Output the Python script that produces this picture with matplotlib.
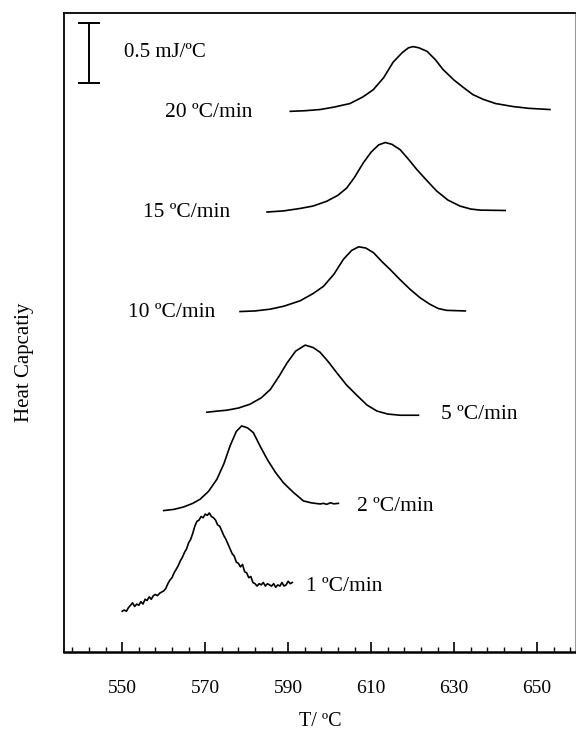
import matplotlib
matplotlib.use("Agg")
import matplotlib.pyplot as plt

plt.rcParams['font.family'] = ['Liberation Serif', 'DejaVu Serif']

# ---- data (T in °C, heat capacity in mJ/°C, arbitrary offsets) ----
T_20 = [590.5, 594, 597.7, 601, 604.9, 608, 610.5, 613, 615.3, 617.5, 619, 620.1,
        621.5, 623.5, 625.5, 627.3, 630, 632.2, 634.5, 637.0, 640, 644.2, 648, 653.1]
C_20 = [4.51, 4.515, 4.525, 4.545, 4.575, 4.63, 4.69, 4.79, 4.92, 5.00, 5.04, 5.05,
        5.04, 5.01, 4.94, 4.86, 4.77, 4.71, 4.65, 4.61, 4.575, 4.55, 4.535, 4.525]

T_15 = [584.9, 589, 592.9, 596, 599.3, 602, 604.1, 606, 608.1, 610, 611.8, 613.4,
        615, 617.0, 619, 621.0, 623.5, 625.8, 628.5, 631.4, 634, 636.3, 642.3]
C_15 = [3.67, 3.68, 3.70, 3.72, 3.76, 3.81, 3.87, 3.96, 4.08, 4.17, 4.23, 4.25,
        4.235, 4.19, 4.11, 4.025, 3.93, 3.845, 3.77, 3.72, 3.695, 3.686, 3.683]

T_10 = [578.4, 582, 585.7, 589, 592.9, 596, 598.5, 601, 603.3, 605.3, 607.0, 608.7,
        610.6, 612.5, 614.6, 617, 619.4, 621.8, 624.2, 626.2, 628.2, 632.7]
C_10 = [2.84, 2.845, 2.86, 2.885, 2.93, 2.99, 3.05, 3.15, 3.275, 3.35, 3.38, 3.37,
        3.33, 3.26, 3.19, 3.105, 3.025, 2.955, 2.90, 2.865, 2.85, 2.845]

T_5 = [570.4, 573, 575.2, 578, 580.8, 583.5, 585.7, 587.8, 589.7, 591.8, 594.1,
       596, 597.7, 599.7, 601.7, 604, 606.6, 609, 611.4, 614, 617.0, 621.4]
C_5 = [2.00, 2.01, 2.017, 2.035, 2.067, 2.12, 2.19, 2.30, 2.41, 2.51, 2.56,
       2.54, 2.50, 2.42, 2.33, 2.23, 2.14, 2.06, 2.01, 1.985, 1.975, 1.975]

T_2 = [560.0, 562.5, 564.8, 567, 568.8, 570.8, 572.8, 574.5, 576.0, 577.5, 578.8,
       580.2, 581.6, 583.2, 584.9, 586.9, 588.9, 591.3, 593.7, 595.5, 596.5, 597.7,
       598.5, 599.3, 600.2, 601.0, 602.1]
C_2 = [1.18, 1.19, 1.21, 1.24, 1.275, 1.34, 1.44, 1.57, 1.72, 1.84, 1.886,
       1.87, 1.83, 1.72, 1.61, 1.50, 1.41, 1.33, 1.26, 1.245, 1.24, 1.235,
       1.24, 1.232, 1.245, 1.236, 1.24]

T_1 = [550.0, 550.5, 551.0, 551.5, 552.0, 552.5, 553.0, 553.5, 554.0, 554.5,
       555.0, 555.5, 556.0, 556.5, 557.0, 557.5, 558.0, 558.5, 559.0, 559.5,
       560.0, 560.5, 561.0, 561.5, 562.0, 562.5, 563.0, 563.5, 564.0, 564.5,
       565.0, 565.5, 566.0, 566.5, 567.0, 567.5, 568.0, 568.5, 569.0, 569.5,
       570.0, 570.5, 571.0, 571.5, 572.0, 572.5, 573.0, 573.5, 574.0, 574.5,
       575.0, 575.5, 576.0, 576.5, 577.0, 577.5, 578.0, 578.5, 579.0, 579.5,
       580.0, 580.5, 581.0, 581.5, 582.0, 582.5, 583.0, 583.5, 584.0, 584.5,
       585.0, 585.5, 586.0, 586.5, 587.0, 587.5, 588.0, 588.5, 589.0, 589.5,
       590.0, 590.5, 591.0]
C_1 = [0.34, 0.35, 0.34, 0.37, 0.39, 0.41, 0.38, 0.40, 0.39, 0.42,
       0.40, 0.44, 0.43, 0.46, 0.44, 0.47, 0.48, 0.47, 0.49, 0.50,
       0.51, 0.53, 0.57, 0.60, 0.62, 0.66, 0.69, 0.72, 0.76, 0.79,
       0.83, 0.86, 0.91, 0.94, 0.99, 1.05, 1.09, 1.10, 1.13, 1.12,
       1.15, 1.14, 1.16, 1.13, 1.12, 1.10, 1.06, 1.05, 1.01, 0.97,
       0.94, 0.90, 0.86, 0.82, 0.80, 0.75, 0.74, 0.71, 0.73, 0.67,
       0.66, 0.62, 0.63, 0.58, 0.57, 0.55, 0.57, 0.56, 0.58, 0.55,
       0.57, 0.56, 0.55, 0.57, 0.54, 0.56, 0.55, 0.58, 0.55, 0.56,
       0.59, 0.57, 0.58]

rate_labels = ["20 \u00baC/min", "15 \u00baC/min", "10 \u00baC/min",
               "5 \u00baC/min", "2 \u00baC/min", "1 \u00baC/min"]
label_T = [560.3, 555.0, 551.4, 626.8, 606.6, 594.3]
label_C = [4.50, 3.67, 2.83, 1.98, 1.21, 0.55]

x_major = [550, 570, 590, 610, 630, 650]
scale_T = 542.05
scale_lo, scale_hi = 4.75, 5.25

# ---- figure ----
fig = plt.figure(figsize=(5.76, 7.36), dpi=100)
ax = fig.add_axes([0.111, 0.1141, 0.887, 0.8682])

for T, C in [(T_20, C_20), (T_15, C_15), (T_10, C_10), (T_5, C_5), (T_2, C_2), (T_1, C_1)]:
    ax.plot(T, C, color='black', lw=1.2, solid_joinstyle='round')

for lab, tx, cy in zip(rate_labels, label_T, label_C):
    ax.text(tx, cy, lab, fontsize=15.5, ha='left', va='center')

# scale bar
ax.plot([scale_T, scale_T], [scale_lo, scale_hi], color='black', lw=1.4)
ax.plot([scale_T - 2.4, scale_T + 2.4], [scale_lo, scale_lo], color='black', lw=1.4)
ax.plot([scale_T - 2.4, scale_T + 2.4], [scale_hi, scale_hi], color='black', lw=1.4)
ax.text(550.4, (scale_lo + scale_hi) / 2, "0.5 mJ/\u00baC", fontsize=15,
        ha='left', va='center')

ax.set_xlim(535.95, 659.1)
ax.set_ylim(0.0, 5.33)

ax.set_xticks(x_major)
ax.set_xticklabels([str(v) for v in x_major], fontsize=14)
ax.set_xticks(list(range(538, 659, 4)), minor=True)
ax.tick_params(axis='x', which='major', direction='in', length=7, width=1.2, pad=20)
ax.tick_params(axis='x', which='minor', direction='in', length=3.5, width=1.0)
ax.set_yticks([])

ax.spines['bottom'].set_linewidth(1.8)
ax.spines['left'].set_linewidth(1.3)
ax.spines['top'].set_linewidth(1.3)
ax.spines['right'].set_linewidth(0.8)
ax.spines['right'].set_color('#999999')

fig.text(320 / 576, 1 - 722 / 736, "T/ \u00baC", fontsize=14.5, ha='center', va='center')
fig.text(25 / 576, 1 - 362 / 736, "Heat Capcatiy", fontsize=15, rotation=90,
         ha='center', va='center')

fig.savefig("out.png", dpi=100)
